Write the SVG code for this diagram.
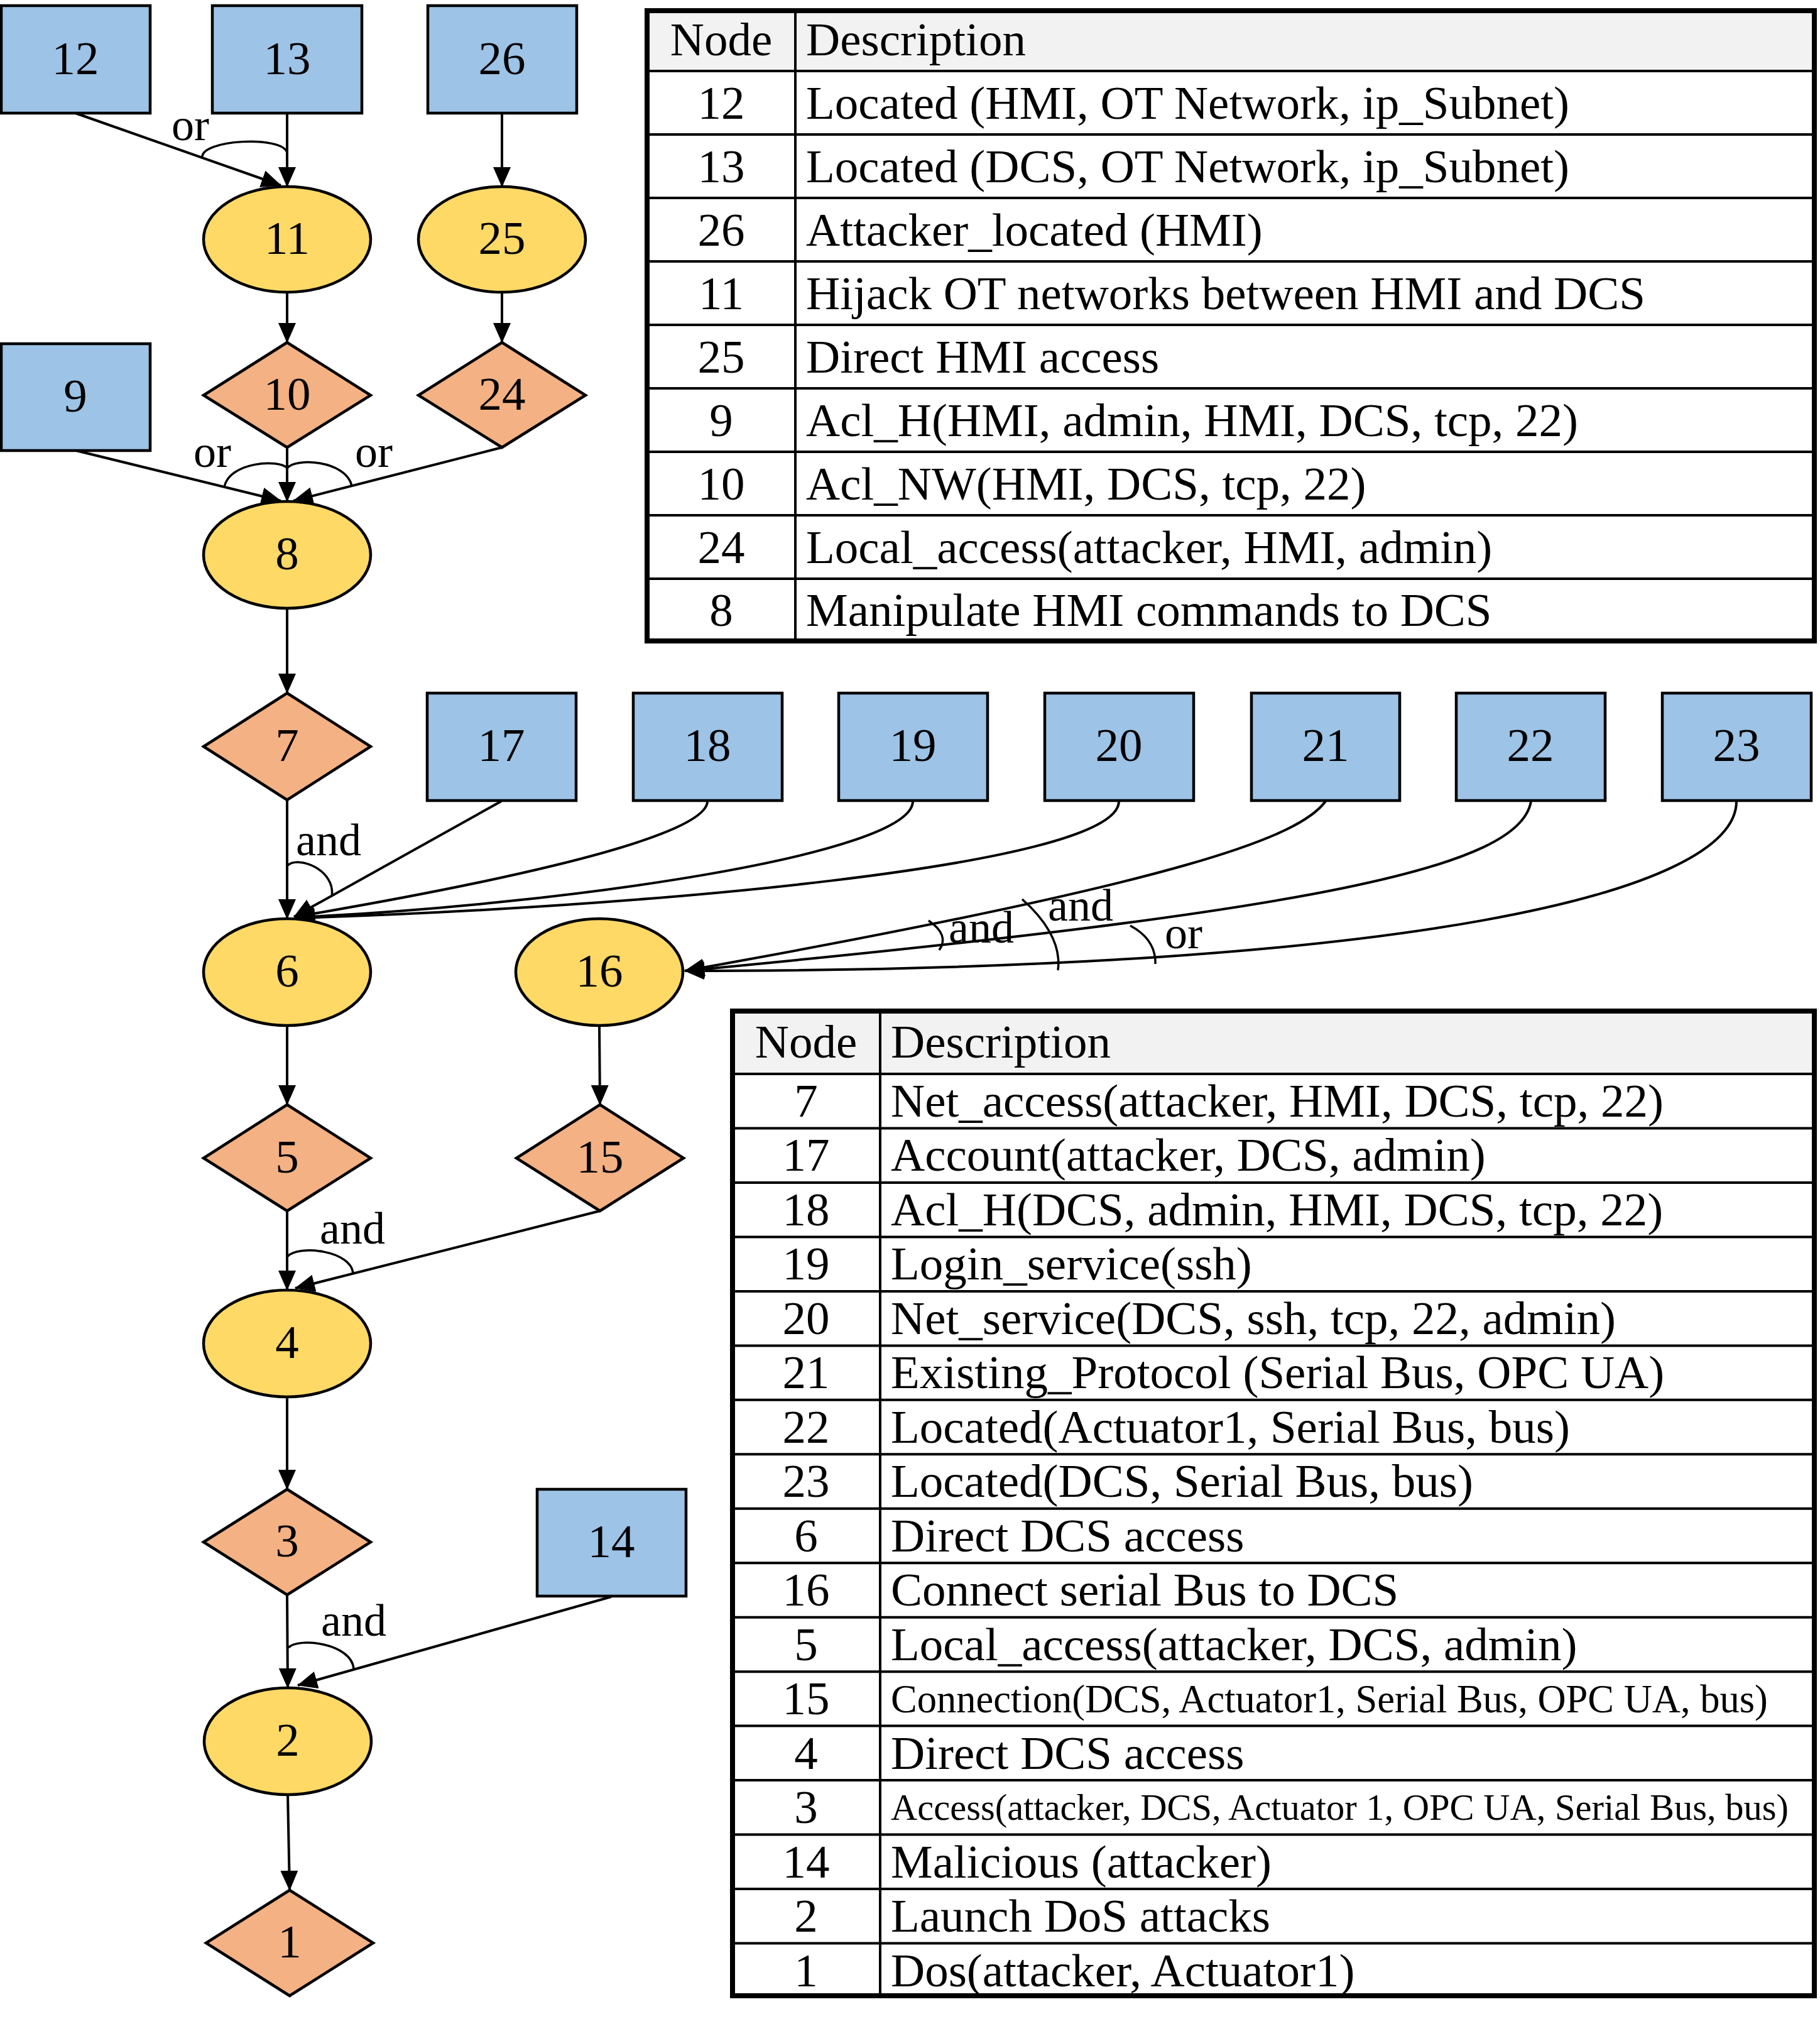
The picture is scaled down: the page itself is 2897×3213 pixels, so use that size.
<svg xmlns="http://www.w3.org/2000/svg" width="2897" height="3213" viewBox="0 0 2897 3213">
<style>
text{font-family:"Liberation Serif","Times New Roman",serif;fill:#000}
.lbl{font-size:75px;text-anchor:middle}
.elbl{font-size:72px}
.box{fill:#9DC3E6;stroke:#000;stroke-width:4.5}
.ell{fill:#FFD966;stroke:#000;stroke-width:4.5}
.dia{fill:#F4B183;stroke:#000;stroke-width:4.5}
.edge{fill:none;stroke:#000;stroke-width:4;marker-end:url(#arr)}
.arc{fill:none;stroke:#000;stroke-width:3.5}
.tframe{fill:none;stroke:#000;stroke-width:8}
.tline{stroke:#000;stroke-width:4}
.thead{fill:#F2F2F2}
.tc{font-size:75px}
.tn{font-size:75px;text-anchor:middle}
</style>
<defs>
<marker id="arr" viewBox="0 0 32 28" refX="31" refY="14" markerWidth="32" markerHeight="28" markerUnits="userSpaceOnUse" orient="auto">
<path d="M0,0 L32,14 L0,28 z" fill="#000"/>
</marker>
</defs>
<rect width="2897" height="3213" fill="#fff"/>

<g id="connectors">
<path class="edge" d="M120,180 L447,295"/>
<path class="edge" d="M457,180 L457,297"/>
<path class="edge" d="M799,180 L799,297"/>
<path class="edge" d="M457,465 L457,545"/>
<path class="edge" d="M799,465 L799,545"/>
<path class="edge" d="M121,717 L447,797"/>
<path class="edge" d="M457,712 L457,798"/>
<path class="edge" d="M799,712 L467,797"/>
<path class="edge" d="M457,967 L457,1103"/>
<path class="edge" d="M457,1273 L457,1462"/>
<path class="edge" d="M798,1275 L468,1459"/>
<path class="edge" d="M1126,1275 C1126,1340 700,1420 470,1459"/>
<path class="edge" d="M1453,1275 C1453,1360 900,1440 470,1460"/>
<path class="edge" d="M1781,1275 C1781,1380 1000,1445 470,1461"/>
<path class="edge" d="M2110,1275 C2070,1330 1900,1400 1090,1545"/>
<path class="edge" d="M2437,1275 C2420,1380 2100,1450 1090,1545"/>
<path class="edge" d="M2764,1275 C2764,1420 2250,1545 1090,1545"/>
<path class="edge" d="M457,1631 L457,1758"/>
<path class="edge" d="M954,1631 L955,1758"/>
<path class="edge" d="M457,1927 L457,2053"/>
<path class="edge" d="M955,1927 L470,2050"/>
<path class="edge" d="M457,2222 L457,2370"/>
<path class="edge" d="M457,2538 L458,2686"/>
<path class="edge" d="M973,2541 L474,2682"/>
<path class="edge" d="M458,2855 L461,3008"/>
<path class="arc" d="M322,251 C318,222 450,215 457,243"/>
<path class="arc" d="M357,775 C365,735 445,730 457,745"/>
<path class="arc" d="M457,745 C470,728 550,732 560,773"/>
<path class="arc" d="M457,1378 C475,1360 535,1385 528,1427"/>
<path class="arc" d="M1478,1465 Q1512,1488 1495,1512"/>
<path class="arc" d="M1627,1431 C1660,1460 1690,1500 1684,1544"/>
<path class="arc" d="M1799,1473 Q1840,1495 1839,1534"/>
<path class="arc" d="M457,2000 C475,1980 560,1990 562,2027"/>
<path class="arc" d="M459,2622 C475,2605 560,2615 563,2656"/>
<text class="elbl" x="273" y="223">or</text>
<text class="elbl" x="308" y="743">or</text>
<text class="elbl" x="565" y="743">or</text>
<text class="elbl" x="471" y="1361">and</text>
<text class="elbl" x="1510" y="1500">and</text>
<text class="elbl" x="1668" y="1465">and</text>
<text class="elbl" x="1854" y="1509">or</text>
<text class="elbl" x="509" y="1979">and</text>
<text class="elbl" x="511" y="2603">and</text>
</g>

<g id="node-12"><rect class="box" x="2" y="9" width="237" height="171"/><text class="lbl" x="120" y="118">12</text></g>
<g id="node-13"><rect class="box" x="338" y="9" width="238" height="171"/><text class="lbl" x="457" y="118">13</text></g>
<g id="node-26"><rect class="box" x="681" y="9" width="237" height="171"/><text class="lbl" x="799" y="118">26</text></g>
<g id="node-11"><ellipse class="ell" cx="457" cy="381" rx="133" ry="84"/><text class="lbl" x="457" y="404">11</text></g>
<g id="node-25"><ellipse class="ell" cx="799" cy="381" rx="133" ry="84"/><text class="lbl" x="799" y="404">25</text></g>
<g id="node-9"><rect class="box" x="2" y="547" width="237" height="170"/><text class="lbl" x="120" y="655">9</text></g>
<g id="node-10"><polygon class="dia" points="457,545 590,629 457,712 324,629"/><text class="lbl" x="457" y="652">10</text></g>
<g id="node-24"><polygon class="dia" points="799,545 932,629 799,712 666,629"/><text class="lbl" x="799" y="652">24</text></g>
<g id="node-8"><ellipse class="ell" cx="457" cy="883" rx="133" ry="85"/><text class="lbl" x="457" y="906">8</text></g>
<g id="node-7"><polygon class="dia" points="457,1103 590,1188 457,1273 324,1188"/><text class="lbl" x="457" y="1211">7</text></g>
<g id="node-17"><rect class="box" x="680" y="1103" width="237" height="171"/><text class="lbl" x="798" y="1211">17</text></g>
<g id="node-18"><rect class="box" x="1008" y="1103" width="237" height="171"/><text class="lbl" x="1126" y="1211">18</text></g>
<g id="node-19"><rect class="box" x="1335" y="1103" width="237" height="171"/><text class="lbl" x="1453" y="1211">19</text></g>
<g id="node-20"><rect class="box" x="1663" y="1103" width="237" height="171"/><text class="lbl" x="1781" y="1211">20</text></g>
<g id="node-21"><rect class="box" x="1992" y="1103" width="236" height="171"/><text class="lbl" x="2110" y="1211">21</text></g>
<g id="node-22"><rect class="box" x="2318" y="1103" width="237" height="171"/><text class="lbl" x="2436" y="1211">22</text></g>
<g id="node-23"><rect class="box" x="2646" y="1103" width="237" height="171"/><text class="lbl" x="2764" y="1211">23</text></g>
<g id="node-6"><ellipse class="ell" cx="457" cy="1547" rx="133" ry="85"/><text class="lbl" x="457" y="1570">6</text></g>
<g id="node-16"><ellipse class="ell" cx="954" cy="1547" rx="133" ry="85"/><text class="lbl" x="954" y="1570">16</text></g>
<g id="node-5"><polygon class="dia" points="457,1758 590,1843 457,1927 324,1843"/><text class="lbl" x="457" y="1866">5</text></g>
<g id="node-15"><polygon class="dia" points="955,1758 1088,1843 955,1927 822,1843"/><text class="lbl" x="955" y="1866">15</text></g>
<g id="node-4"><ellipse class="ell" cx="457" cy="2138" rx="133" ry="85"/><text class="lbl" x="457" y="2161">4</text></g>
<g id="node-3"><polygon class="dia" points="457,2370 590,2454 457,2538 324,2454"/><text class="lbl" x="457" y="2477">3</text></g>
<g id="node-14"><rect class="box" x="855" y="2370" width="237" height="170"/><text class="lbl" x="973" y="2478">14</text></g>
<g id="node-2"><ellipse class="ell" cx="458" cy="2771" rx="133" ry="85"/><text class="lbl" x="458" y="2794">2</text></g>
<g id="node-1"><polygon class="dia" points="461,3008 594,3092 461,3176 328,3092"/><text class="lbl" x="461" y="3115">1</text></g>

<g id="table-top">
<rect class="thead" x="1030" y="17" width="1858" height="96"/>
<line class="tline" x1="1030" y1="113" x2="2888" y2="113"/>
<line class="tline" x1="1030" y1="214" x2="2888" y2="214"/>
<line class="tline" x1="1030" y1="315" x2="2888" y2="315"/>
<line class="tline" x1="1030" y1="416" x2="2888" y2="416"/>
<line class="tline" x1="1030" y1="517" x2="2888" y2="517"/>
<line class="tline" x1="1030" y1="618" x2="2888" y2="618"/>
<line class="tline" x1="1030" y1="719" x2="2888" y2="719"/>
<line class="tline" x1="1030" y1="820" x2="2888" y2="820"/>
<line class="tline" x1="1030" y1="921" x2="2888" y2="921"/>
<line class="tline" x1="1266" y1="17" x2="1266" y2="1020"/>
<rect class="tframe" x="1030" y="17" width="1858" height="1003"/>
<text class="tn" x="1148" y="88">Node</text><text class="tc" x="1283" y="88">Description</text>
<text class="tn" x="1148" y="189">12</text><text class="tc" x="1283" y="189">Located (HMI, OT Network, ip_Subnet)</text>
<text class="tn" x="1148" y="290">13</text><text class="tc" x="1283" y="290">Located (DCS, OT Network, ip_Subnet)</text>
<text class="tn" x="1148" y="391">26</text><text class="tc" x="1283" y="391">Attacker_located (HMI)</text>
<text class="tn" x="1148" y="492">11</text><text class="tc" x="1283" y="492">Hijack OT networks between HMI and DCS</text>
<text class="tn" x="1148" y="593">25</text><text class="tc" x="1283" y="593">Direct HMI access</text>
<text class="tn" x="1148" y="694">9</text><text class="tc" x="1283" y="694">Acl_H(HMI, admin, HMI, DCS, tcp, 22)</text>
<text class="tn" x="1148" y="795">10</text><text class="tc" x="1283" y="795">Acl_NW(HMI, DCS, tcp, 22)</text>
<text class="tn" x="1148" y="896">24</text><text class="tc" x="1283" y="896">Local_access(attacker, HMI, admin)</text>
<text class="tn" x="1148" y="996">8</text><text class="tc" x="1283" y="996">Manipulate HMI commands to DCS</text>
</g>

<g id="table-bottom">
<rect class="thead" x="1166" y="1609" width="1722" height="100"/>
<line class="tline" x1="1166" y1="1709" x2="2888" y2="1709"/>
<line class="tline" x1="1166" y1="1795.5" x2="2888" y2="1795.5"/>
<line class="tline" x1="1166" y1="1882" x2="2888" y2="1882"/>
<line class="tline" x1="1166" y1="1968.4" x2="2888" y2="1968.4"/>
<line class="tline" x1="1166" y1="2054.9" x2="2888" y2="2054.9"/>
<line class="tline" x1="1166" y1="2141.4" x2="2888" y2="2141.4"/>
<line class="tline" x1="1166" y1="2227.8" x2="2888" y2="2227.8"/>
<line class="tline" x1="1166" y1="2314.3" x2="2888" y2="2314.3"/>
<line class="tline" x1="1166" y1="2400.8" x2="2888" y2="2400.8"/>
<line class="tline" x1="1166" y1="2487.2" x2="2888" y2="2487.2"/>
<line class="tline" x1="1166" y1="2573.7" x2="2888" y2="2573.7"/>
<line class="tline" x1="1166" y1="2660.2" x2="2888" y2="2660.2"/>
<line class="tline" x1="1166" y1="2746.6" x2="2888" y2="2746.6"/>
<line class="tline" x1="1166" y1="2833.1" x2="2888" y2="2833.1"/>
<line class="tline" x1="1166" y1="2919.6" x2="2888" y2="2919.6"/>
<line class="tline" x1="1166" y1="3006.1" x2="2888" y2="3006.1"/>
<line class="tline" x1="1166" y1="3092.5" x2="2888" y2="3092.5"/>
<line class="tline" x1="1401" y1="1609" x2="1401" y2="3176"/>
<rect class="tframe" x="1166" y="1609" width="1722" height="1567"/>
<text class="tn" x="1283" y="1683">Node</text><text class="tc" x="1418" y="1683">Description</text>
<text class="tn" x="1283" y="1777">7</text><text class="tc" x="1418" y="1777">Net_access(attacker, HMI, DCS, tcp, 22)</text>
<text class="tn" x="1283" y="1863">17</text><text class="tc" x="1418" y="1863">Account(attacker, DCS, admin)</text>
<text class="tn" x="1283" y="1950">18</text><text class="tc" x="1418" y="1950">Acl_H(DCS, admin, HMI, DCS, tcp, 22)</text>
<text class="tn" x="1283" y="2036">19</text><text class="tc" x="1418" y="2036">Login_service(ssh)</text>
<text class="tn" x="1283" y="2123">20</text><text class="tc" x="1418" y="2123">Net_service(DCS, ssh, tcp, 22, admin)</text>
<text class="tn" x="1283" y="2209">21</text><text class="tc" x="1418" y="2209">Existing_Protocol (Serial Bus, OPC UA)</text>
<text class="tn" x="1283" y="2296">22</text><text class="tc" x="1418" y="2296">Located(Actuator1, Serial Bus, bus)</text>
<text class="tn" x="1283" y="2382">23</text><text class="tc" x="1418" y="2382">Located(DCS, Serial Bus, bus)</text>
<text class="tn" x="1283" y="2469">6</text><text class="tc" x="1418" y="2469">Direct DCS access</text>
<text class="tn" x="1283" y="2555">16</text><text class="tc" x="1418" y="2555">Connect serial Bus to DCS</text>
<text class="tn" x="1283" y="2642">5</text><text class="tc" x="1418" y="2642">Local_access(attacker, DCS, admin)</text>
<text class="tn" x="1283" y="2728">15</text><text class="tc" x="1418" y="2725" style="font-size:62.5px">Connection(DCS, Actuator1, Serial Bus, OPC UA, bus)</text>
<text class="tn" x="1283" y="2815">4</text><text class="tc" x="1418" y="2815">Direct DCS access</text>
<text class="tn" x="1283" y="2901">3</text><text class="tc" x="1418" y="2896" style="font-size:58.5px">Access(attacker, DCS, Actuator 1, OPC UA, Serial Bus, bus)</text>
<text class="tn" x="1283" y="2988">14</text><text class="tc" x="1418" y="2988">Malicious (attacker)</text>
<text class="tn" x="1283" y="3074">2</text><text class="tc" x="1418" y="3074">Launch DoS attacks</text>
<text class="tn" x="1283" y="3161">1</text><text class="tc" x="1418" y="3161">Dos(attacker, Actuator1)</text>
</g>
</svg>
